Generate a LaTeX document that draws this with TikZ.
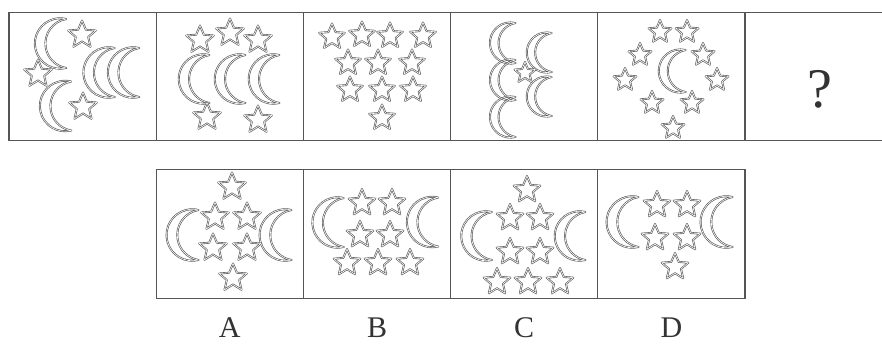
\documentclass[tikz,border=0pt]{standalone}
\usepackage{fontspec}
\setmainfont{Liberation Serif}
\usetikzlibrary{positioning}
\definecolor{framegray}{RGB}{85,85,85}
\definecolor{shapegray}{RGB}{90,90,90}
\tikzset{
  cell/.style={draw=framegray, line width=1.2pt, minimum width=147.2pt, minimum height=128.5pt, inner sep=0pt},
  outline/.style={draw=shapegray, line width=0.65pt, double=white, double distance=0.6pt, line join=round},
  optlabel/.style={font=\fontsize{30}{30}\selectfont, text=black!80, inner sep=0pt},
  crescent/.pic={
    \path[outline, scale=#1] (0.6,1) arc[start angle=76, end angle=284, radius=1.03]
      arc[start angle=260.7, end angle=99.3, radius=1.013] -- cycle;
  },
  starshape/.pic={
    \path[outline, scale=#1] (-90:1) -- (-54:.45) -- (-18:1) -- (18:.45) -- (54:1) -- (90:.45)
      -- (126:1) -- (162:.45) -- (198:1) -- (234:.45) -- cycle;
  }
}

\begin{document}
\begin{tikzpicture}[x=1pt, y=-1pt]
  \useasboundingbox[fill=white] (0,0) rectangle (882,345);

  % question row
  \foreach \i in {1,...,6}
    \node[cell] (top\i) at ({9+147.2*(\i-0.5)}, 76.5) {};
  % answer row
  \foreach \n [count=\i] in {A,B,C,D}
    \node[cell] (opt\n) at ({156.2+147.2*(\i-0.5)}, 234) {};

  % panel 1
  \foreach \p in {(51.5,43.5),(56.5,106),(100,72.5),(124.5,72.5)} \pic at \p {crescent=24.5};
  \foreach \p in {(82,35),(38,74),(83,107)} \pic at \p {starshape=14.5};

  % panel 2
  \foreach \p in {(195,79),(231,79),(265,79)} \pic at \p {crescent=24};
  \foreach \p in {(200,40),(230,33),(258,40),(207,117),(258,120)} \pic at \p {starshape=14.5};

  % panel 3
  \foreach \p in {(332,37),(362,35),(390,36),(423,36),(348,63),(378,63),(412,63),
                  (350,90),(382,90),(413,90),(382,118)} \pic at \p {starshape=13.5};

  % panel 4
  \foreach \p in {(503.5,43),(503.5,80),(503.5,117)} \pic at \p {crescent=20};
  \foreach \p in {(540,52.5),(540,96.5)} \pic at \p {crescent=19.5};
  \pic at (525,73) {starshape=11};

  % panel 5
  \pic at (673,71) {crescent=21};
  \foreach \p in {(660,32),(687,32),(640,55),(703,55),(625,80),(717,80),
                  (652,103),(692,103),(673,128)} \pic at \p {starshape=12};

  % panel 6
  \node[font=\fontsize{56}{56}\selectfont, text=black!80, anchor=base, inner sep=0pt] (quest) at (820,107) {?};

  % option A
  \foreach \p in {(183.5,235),(276.5,235)} \pic at \p {crescent=25};
  \foreach \p in {(232,187),(215,217),(247,217),(213,248),(247,248),(233,278)} \pic at \p {starshape=14.5};

  % option B
  \foreach \p in {(329,222.5),(423.5,222)} \pic at \p {crescent=24.5};
  \foreach \p in {(362,203),(392,203),(360,235),(390,235),(347,263),(378,263),(410,263)} \pic at \p {starshape=14};

  % option C
  \foreach \p in {(477.5,236),(571,236)} \pic at \p {crescent=24};
  \foreach \p in {(527,190),(510,218),(540,218),(510,252),(540,252),(497,282),(528,282),(560,282)} \pic at \p {starshape=14};

  % option D
  \foreach \p in {(623.5,222),(717.5,222)} \pic at \p {crescent=25};
  \foreach \p in {(657,205),(687,205),(655,238),(687,238),(675,267)} \pic at \p {starshape=14};

  % option labels
  \foreach \n in {A,B,C,D}
    \node[optlabel, below=19pt of opt\n] (lab\n) {\n};
\end{tikzpicture}
\end{document}
